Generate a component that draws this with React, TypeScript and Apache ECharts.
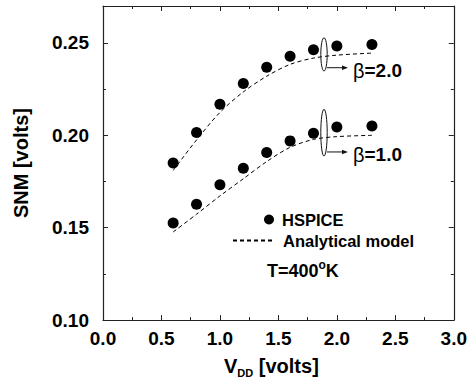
import React, { useEffect, useRef } from "react";
import * as echarts from "echarts";

const FONT = "'Liberation Sans', Arial, Helvetica, sans-serif";

// V_DD values (volts)
const vdd = [0.6, 0.8, 1.0, 1.2, 1.4, 1.6, 1.8, 2.0, 2.3];
// HSPICE simulated SNM (volts)
const hspiceBeta2 = [0.185, 0.2015, 0.2168, 0.228, 0.2368, 0.2428, 0.2463, 0.2484, 0.2492];
const hspiceBeta1 = [0.1525, 0.1627, 0.1733, 0.1822, 0.1907, 0.197, 0.2011, 0.2045, 0.205];
// Analytical model SNM (volts)
const modelBeta2 = [0.181, 0.1975, 0.2124, 0.2235, 0.232, 0.2384, 0.2418, 0.2434, 0.2445];
const modelBeta1 = [0.1477, 0.1573, 0.1672, 0.1765, 0.1858, 0.1935, 0.1978, 0.1993, 0.2];

// Axis ranges / ticks
const xMin = 0, xMax = 3.0, xStep = 0.5;
const yMin = 0.1, yMax = 0.27, yStep = 0.05;

// Annotations (ellipse around curves + arrow + beta label)
const annX = [1.89, 1.89];
const annLow = [0.2348, 0.1888];
const annHigh = [0.2528, 0.2141];
const annArrow = [0.2366, 0.191];
const annLabels = ["2.0", "1.0"];

const zip = (xs: number[], ys: number[]) => xs.map((x, i) => [x, ys[i]]);

export default function App() {
  const ref = useRef<HTMLDivElement>(null);
  useEffect(() => {
    if (!ref.current) return;
    const chart = echarts.init(ref.current, undefined, { renderer: "svg" });
    const axisColor = "#222";
    const tickLabel = {
      fontFamily: FONT,
      fontWeight: "bold" as const,
      fontSize: 19,
      color: "#000",
    };
    const commonX = {
      type: "value" as const,
      min: xMin,
      max: xMax,
      interval: xStep,
      splitLine: { show: false },
      axisLine: { show: true, onZero: false, lineStyle: { color: axisColor, width: 1.2 } },
      axisTick: { show: true, inside: true, length: 5, lineStyle: { color: axisColor } },
      minorTick: { show: true, splitNumber: 2, length: 3, lineStyle: { color: axisColor } },
    };
    const commonY = {
      type: "value" as const,
      min: yMin,
      max: yMax,
      interval: yStep,
      splitLine: { show: false },
      axisLine: { show: true, onZero: false, lineStyle: { color: axisColor, width: 1.2 } },
      axisTick: { show: true, inside: true, length: 5, lineStyle: { color: axisColor } },
      minorTick: { show: true, splitNumber: 2, length: 3, lineStyle: { color: axisColor } },
    };
    chart.setOption({
      animation: false,
      backgroundColor: "#fff",
      grid: { left: 103, right: 16, top: 6, bottom: 62 },
      xAxis: [
        {
          ...commonX,
          position: "bottom",
          axisLabel: { ...tickLabel, margin: 9, formatter: (v: number) => v.toFixed(1) },
          name: "{m|V}{sub|DD}{m| [volts]}",
          nameLocation: "middle",
          nameGap: 35,
          nameTextStyle: {
            fontFamily: FONT,
            fontWeight: "bold",
            color: "#000",
            padding: [0, 14, 0, 0],
            rich: {
              m: { fontFamily: FONT, fontWeight: "bold", fontSize: 20, lineHeight: 22, verticalAlign: "top", color: "#000" },
              sub: { fontFamily: FONT, fontWeight: "bold", fontSize: 11, lineHeight: 12, padding: [14, 0, 0, 0], verticalAlign: "bottom", color: "#000" },
            },
          },
        },
        {
          ...commonX,
          position: "top",
          axisLabel: { show: false },
        },
      ],
      yAxis: [
        {
          ...commonY,
          position: "left",
          axisLabel: { ...tickLabel, margin: 14, showMaxLabel: false, formatter: (v: number) => v.toFixed(2) },
          name: "SNM [volts]",
          nameLocation: "middle",
          nameGap: 72,
          nameTextStyle: { fontFamily: FONT, fontWeight: "bold", fontSize: 20, color: "#000" },
        },
        {
          ...commonY,
          position: "right",
          axisLabel: { show: false },
        },
      ],
      legend: [
        {
          data: [{ name: "HSPICE", icon: "circle" }],
          left: 264,
          top: 211,
          padding: 0,
          itemWidth: 10,
          itemHeight: 10,
          selectedMode: false,
          itemStyle: { opacity: 1 },
          textStyle: { fontFamily: FONT, fontWeight: "bold", fontSize: 16.5, color: "#000", padding: [0, 0, 0, 3] },
        },
        {
          data: ["Analytical model"],
          left: 232,
          top: 232,
          padding: 0,
          itemWidth: 40,
          itemHeight: 10,
          selectedMode: false,
          itemStyle: { opacity: 0 },
          textStyle: { fontFamily: FONT, fontWeight: "bold", fontSize: 16.5, color: "#000", padding: [0, 0, 0, 5] },
        },
      ],
      graphic: [
        {
          type: "text",
          left: 267,
          top: 259,
          style: {
            text: "{m|T=400}{sup|o}{m|K}",
            rich: {
              m: { fontFamily: FONT, fontWeight: "bold", fontSize: 18, lineHeight: 21, verticalAlign: "bottom", fill: "#000" },
              sup: { fontFamily: FONT, fontWeight: "bold", fontSize: 12, lineHeight: 13, verticalAlign: "top", fill: "#000" },
            },
          },
        },
      ],
      series: [
        {
          name: "HSPICE",
          type: "scatter",
          data: zip(vdd, hspiceBeta2),
          symbol: "circle",
          symbolSize: 11,
          itemStyle: { color: "#000", opacity: 1 },
          z: 3,
        },
        {
          name: "HSPICE",
          type: "scatter",
          data: zip(vdd, hspiceBeta1),
          symbol: "circle",
          symbolSize: 11,
          itemStyle: { color: "#000", opacity: 1 },
          z: 3,
        },
        {
          name: "Analytical model",
          type: "line",
          data: zip(vdd, modelBeta2),
          showSymbol: false,
          symbol: "none",
          smooth: 0.3,
          lineStyle: { color: "#000", width: 1, type: [4, 3] },
          itemStyle: { color: "#000" },
          z: 2,
        },
        {
          name: "Analytical model",
          type: "line",
          data: zip(vdd, modelBeta1),
          showSymbol: false,
          symbol: "none",
          smooth: 0.3,
          lineStyle: { color: "#000", width: 1, type: [4, 3] },
          itemStyle: { color: "#000" },
          z: 2,
        },
        {
          name: "annotations",
          type: "custom",
          silent: true,
          clip: false,
          z: 4,
          data: annX.map((x, i) => [x, annLow[i], annHigh[i], annArrow[i]]),
          renderItem: (params: any, api: any) => {
            const x = api.value(0);
            const top = api.coord([x, api.value(2)]);
            const bot = api.coord([x, api.value(1)]);
            const arr = api.coord([x, api.value(3)]);
            const cx = top[0];
            const cy = (top[1] + bot[1]) / 2;
            const ry = (bot[1] - top[1]) / 2;
            const ay = arr[1];
            return {
              type: "group",
              children: [
                { type: "ellipse", shape: { cx, cy, rx: 3.2, ry }, style: { fill: "none", stroke: "#111", lineWidth: 1 } },
                { type: "line", shape: { x1: cx + 3, y1: ay, x2: cx + 20, y2: ay }, style: { stroke: "#111", lineWidth: 1 } },
                { type: "polygon", shape: { points: [[cx + 24, ay], [cx + 18, ay - 2.2], [cx + 18, ay + 2.2]] }, style: { fill: "#111" } },
                {
                  type: "text",
                  x: cx + 29,
                  y: ay + 3,
                  style: {
                    text: "{g|β}{n|=" + annLabels[params.dataIndex] + "}",
                    verticalAlign: "middle",
                    align: "left",
                    rich: {
                      g: { fontFamily: FONT, fontWeight: "normal", fontSize: 20, fill: "#000" },
                      n: { fontFamily: FONT, fontWeight: "bold", fontSize: 19, fill: "#000" },
                    },
                  },
                },
              ],
            };
          },
        },
      ],
    });
    return () => chart.dispose();
  }, []);
  return (
    <div
      ref={ref}
      style={{ position: "fixed", left: 0, top: 0, width: 470, height: 383, background: "#fff" }}
    />
  );
}
